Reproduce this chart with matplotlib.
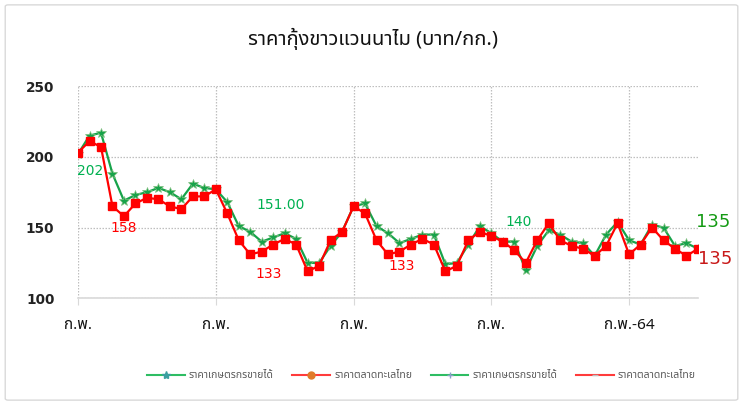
import matplotlib
matplotlib.use('Agg')
import matplotlib.pyplot as plt
from matplotlib.lines import Line2D
from matplotlib.patches import FancyBboxPatch
import numpy as np

THAI = ['Noto Sans Thai', 'DejaVu Sans']
plt.rcParams['font.family'] = ['DejaVu Sans']

title = 'ราคากุ้งขาวแวนนาไม (บาท/กก.)'
farm_name = 'ราคาเกษตรกรขายได้'
market_name = 'ราคาตลาดทะเลไทย'

# monthly prices, 55 months
farm = [202, 215, 217, 188, 169, 173, 175, 178, 175, 170, 181, 178,
        177, 168, 151, 147, 140, 143, 146, 142, 125, 125, 137, 147,
        165, 167, 151, 146, 139, 142, 145, 145, 124, 125, 138, 151,
        146, 140, 140, 120, 137, 148, 145, 140, 139, 130, 145, 154,
        141, 138, 152, 150, 137, 139, 135]
market = [203, 211, 207, 165, 158, 167, 171, 170, 165, 163, 172, 172,
          177, 160, 141, 131, 133, 138, 142, 138, 119, 123, 141, 147,
          165, 160, 141, 131, 133, 138, 142, 138, 119, 123, 141, 147,
          144, 140, 134, 125, 141, 153, 141, 137, 135, 130, 137, 153,
          131, 138, 150, 141, 135, 130, 135]

tick_pos = [0, 12, 24, 36, 48]
tick_labels = ['ก.พ.', 'ก.พ.', 'ก.พ.', 'ก.พ.', 'ก.พ.-64']

# (index, series, text)
labels = [(0, 'farm', '202'), (4, 'market', '158'), (14, 'farm', '151.00'),
          (16, 'market', '133'), (28, 'market', '133'), (38, 'farm', '140')]
# label offsets in pixels (dx, dy), dy positive = up
offsets = [(12, -17), (0, -12), (42, 21), (7, -22), (2, -14), (4, 20)]

green = '#17a34a'
red = '#ff0000'

fig = plt.figure(figsize=(7.46, 4.05), dpi=100)
fig.patches.append(FancyBboxPatch((0.007, 0.012), 0.982, 0.976,
                                  boxstyle='round,pad=0,rounding_size=0.004',
                                  transform=fig.transFigure, fill=False,
                                  edgecolor='#d9d9d9', linewidth=1.0))
ax = fig.add_axes([0.1046, 0.2635, 0.831, 0.524])

x = np.arange(len(farm))
ax.plot(x, farm, color=green, lw=1.6, marker='*', ms=7.5, mfc=green,
        mec='#7fbf7f', mew=0.5, zorder=3)
ax.plot(x, market, color=red, lw=1.6, marker='s', ms=5.2, mfc=red,
        mec=red, zorder=4)

for (i, s, t), (dx, dy) in zip(labels, offsets):
    yv = farm[i] if s == 'farm' else market[i]
    col = '#00b050' if s == 'farm' else red
    ax.annotate(t, (i, yv), xytext=(dx, dy), textcoords='offset pixels',
                color=col, fontsize=10, ha='center', va='center')
ax.annotate(str(farm[-1]), (len(farm) - 1, farm[-1]), xytext=(15, 27),
            textcoords='offset pixels', color='#139a13', fontsize=13,
            ha='center', va='center')
ax.annotate(str(market[-1]), (len(market) - 1, market[-1]), xytext=(17, -10),
            textcoords='offset pixels', color='#c81818', fontsize=13,
            ha='center', va='center')

ax.set_xlim(0, 54)
ax.set_ylim(100, 250)
ax.set_yticks([100, 150, 200, 250])
ax.set_xticks(tick_pos)
ax.set_xticklabels(tick_labels, family=THAI, fontsize=11)
for lab in ax.get_yticklabels():
    lab.set_fontsize(9.8)
    lab.set_fontweight('bold')
    lab.set_color('#222222')
ax.tick_params(axis='y', length=0, pad=17)
ax.tick_params(axis='x', length=5, color='#d9d9d9', pad=9, labelcolor='#111111')

ax.grid(True, color='#bfbfbf', linestyle=(0, (1.2, 1.2)), linewidth=0.9)
for sp in ['top', 'right', 'left']:
    ax.spines[sp].set_visible(False)
ax.spines['bottom'].set_color('#d9d9d9')
ax.spines['bottom'].set_linewidth(1.2)

fig.text(0.5, 0.905, title, family=THAI, fontsize=14.5, fontweight='bold',
         ha='center', va='center', color='#111111')

handles = [
    Line2D([], [], color='#2ebd63', lw=1.5, marker='*', ms=6, mfc='#3b9fa0', mec='#3b9fa0'),
    Line2D([], [], color='#ff3b3b', lw=1.5, marker='o', ms=5, mfc='#e07b2a', mec='#e07b2a'),
    Line2D([], [], color='#2ebd63', lw=1.5, marker='+', ms=5, mec='#8aa0c8'),
    Line2D([], [], color='#ff3b3b', lw=1.5, marker='_', ms=4, mec='#c0c0c0'),
]
fig.legend(handles, [farm_name, market_name, farm_name, market_name],
           loc='center', bbox_to_anchor=(0.565, 0.072), ncol=4, frameon=False,
           prop={'family': THAI, 'size': 7.5}, labelcolor='#595959',
           handlelength=3.6, columnspacing=1.8, handletextpad=0.4)

fig.savefig('out.png', dpi=100)
